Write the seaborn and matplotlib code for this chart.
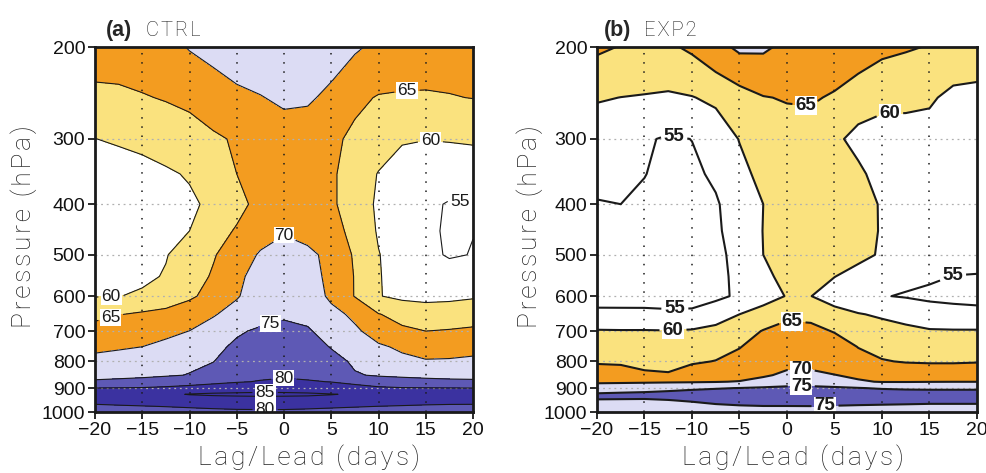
import numpy as np
import pandas as pd
import matplotlib
matplotlib.use('Agg')
import matplotlib.pyplot as plt
from matplotlib.ticker import NullLocator
import seaborn as sns

# lag/lead (days) and pressure levels (hPa)
lags = [-20, -17.5, -15, -12.5, -10, -7.5, -5, -2.5, 0, 2.5, 5, 7.5, 10, 12.5, 15, 17.5, 20]
plevs = [200, 250, 300, 350, 400, 450, 500, 550, 600, 650, 700, 750, 800, 850, 875, 900, 925, 950, 975, 1000]

# relative humidity (%), one row per pressure level
ctrl_rh = [
    [67, 67, 67.5, 68.5, 70.3, 71.5, 72.5, 73, 73, 72.5, 72, 70.6, 69, 68, 67.5, 67, 67],                    # 200
    [64, 64.2, 64.7, 65.3, 66, 67.5, 69, 69.8, 70.8, 70.6, 69, 66, 64.7, 64.5, 64.5, 64.8, 65.1],             # 250
    [59.95, 60.5, 61, 62, 63, 64.3, 65.5, 67, 67.8, 67.5, 66, 64, 62, 60.3, 60.1, 60.3, 60.6],                # 300
    [57.5, 58, 58.7, 59.4, 60.4, 62.5, 65, 66.5, 67, 66.8, 65.8, 62.5, 59.8, 58.5, 57.5, 57, 57],             # 350
    [56, 56.5, 57, 58, 59.2, 61, 63.5, 66.5, 67.5, 67, 65.8, 62.5, 59.3, 57, 55.8, 54.7, 54.9],               # 400
    [56.5, 56.8, 57.5, 58.5, 60, 62.8, 65.5, 68, 69.7, 68.5, 66.5, 63.8, 59.5, 57, 55.6, 54.6, 54.95],        # 450
    [57, 57.5, 58.5, 59.8, 61.8, 64.6, 67.5, 70.5, 71.5, 71, 68.8, 64.4, 60.2, 57.5, 55.8, 54.7, 55.1],       # 500
    [57.5, 58, 59.2, 60.3, 62.8, 65.5, 69, 71.8, 73, 72.3, 68.5, 64.8, 60.3, 58, 57, 56.5, 57],               # 550
    [59.8, 59.9, 60.6, 62, 64.3, 66.5, 69.6, 72.5, 74, 73, 69, 64.8, 60.2, 59, 58.8, 59, 59.5],               # 600
    [64, 64.8, 65.7, 66.5, 67.5, 69.6, 71.8, 73.5, 74.5, 74, 71.5, 69, 65.2, 63.5, 62.3, 62.5, 63],           # 650
    [66.5, 67, 67.8, 69, 70.05, 72, 74.5, 75.6, 76, 75.4, 73.5, 70.8, 68, 65.8, 65.0, 65.3, 65.7],            # 700
    [68.5, 69.3, 70, 71, 72.5, 74, 75.7, 77.5, 78.3, 77.5, 74.7, 72.5, 70.6, 69.3, 68.3, 68, 68.3],           # 750
    [72, 72.5, 73, 73.8, 74.5, 74.9, 77, 78.5, 79, 78.5, 76.8, 74.2, 72.5, 71, 70.3, 70.5, 71],               # 800
    [74.3, 74.4, 74.5, 74.7, 75.1, 76.5, 78, 79.3, 79.6, 79.2, 78, 75.4, 74.5, 74.3, 74.3, 74.3, 74.3],       # 850
    [75.3, 75.5, 75.8, 76.5, 77.5, 78.8, 79.7, 80.2, 80.5, 80.3, 79.9, 79.1, 77.8, 76.5, 75.8, 75.5, 75.4],   # 875
    [80.05, 80.2, 80.4, 81, 81.8, 82.3, 82.6, 82.8, 82.8, 82.5, 82, 81.2, 80.6, 80.3, 80.2, 80.1, 80.05],     # 900
    [82.5, 83, 83.5, 84.2, 85.2, 85.6, 85.8, 86, 85.9, 85.7, 85.2, 84.5, 83.8, 83.3, 83, 82.8, 82.7],         # 925
    [81, 81.3, 81.6, 82, 82.5, 82.8, 83, 83, 83, 83, 82.8, 82.4, 82, 81.6, 81.3, 81.1, 81],                   # 950
    [79.5, 79.7, 79.9, 80.1, 80.3, 80.5, 80.7, 80.8, 80.8, 80.6, 80.4, 80.2, 80.0, 79.8, 79.6, 79.5, 79.5],   # 975
    [78, 78.2, 78.5, 78.8, 79.1, 79.3, 79.4, 79.4, 79.4, 79.3, 79.1, 78.9, 78.7, 78.5, 78.3, 78.1, 78],       # 1000
]

exp2_rh = [
    [65.8, 64.8, 63.8, 64.3, 65.8, 68.5, 70.9, 70.7, 69, 68.5, 68, 67.5, 66, 65.4, 64.8, 64.3, 64],           # 200
    [60.4, 59.95, 59.7, 59.3, 59.8, 61, 63, 64.8, 65.3, 65.5, 64.5, 62.5, 61.5, 61.2, 60.8, 58.5, 58],        # 250
    [57, 56.5, 55.5, 54.5, 55.05, 56.8, 60.2, 62.2, 63, 62.8, 61, 58.5, 57.5, 57.8, 57.5, 57, 57],            # 300
    [56, 55.8, 55.1, 54, 54.3, 55.6, 58.5, 61.5, 63, 63, 62.3, 61, 58, 57, 56.8, 56.5, 56.5],                 # 350
    [54.8, 55.0, 54.3, 53.5, 53.8, 54.6, 57, 60, 62.3, 63, 62.8, 61.8, 59.6, 57.5, 57, 56.8, 56.7],           # 400
    [53.8, 53.7, 53.3, 53, 53.3, 54.3, 57, 60.1, 62.5, 63, 62.8, 62, 59.6, 57.5, 57, 56.6, 56.5],             # 450
    [53.5, 53.4, 53.2, 53, 53.2, 54.2, 56, 60, 62.5, 62.8, 62.2, 61.2, 59.5, 57.5, 56.5, 56, 55.7],           # 500
    [53.8, 53.6, 53.4, 53.3, 53.5, 54.3, 55.6, 59.2, 61, 61.2, 60.1, 58.3, 57, 56, 55.4, 54.95, 54.9],        # 550
    [54, 53.8, 53.6, 53.6, 53.8, 54.3, 55.5, 57.5, 60.3, 60.1, 57.5, 56, 55.2, 54.7, 54.4, 54.3, 54.2],       # 600
    [55.6, 55.7, 55.8, 55.6, 55.6, 57, 60, 62.5, 64.2, 64, 62, 60.3, 59.3, 58.5, 56.5, 56, 55.8],             # 650
    [60.4, 60.3, 60.3, 60.2, 60.5, 61.8, 63.3, 65.2, 66.3, 66, 64.8, 63.5, 62, 61, 60.5, 60.4, 60.4],         # 700
    [62, 62, 62, 62.2, 62.8, 63.8, 64.8, 67, 68, 67.8, 66.7, 64.9, 63.5, 62.5, 62.2, 62, 62],                 # 750
    [64.6, 64.5, 64.3, 64.3, 64.6, 65.1, 66.5, 68, 69, 68.8, 67.8, 66.2, 65.3, 64.7, 64.5, 64.5, 64.7],       # 800
    [66.8, 66.5, 65.4, 65.2, 66.6, 67.3, 68.2, 69.6, 70.6, 70.8, 70.1, 69.3, 68.6, 68.3, 68.2, 68.2, 68.3],   # 850
    [69.2, 69.3, 69.4, 69.5, 69.6, 69.8, 70.2, 71, 72.5, 72.8, 71.8, 70.4, 69.8, 69.8, 69.9, 69.95, 69.95],   # 875
    [72.5, 72.8, 73.2, 73.8, 74.3, 74.7, 75.1, 75.6, 76, 76, 75.7, 75.2, 74.6, 74.3, 74.2, 74.2, 74.2],       # 900
    [75.5, 75.8, 76, 76.3, 76.8, 77.3, 77.8, 78.2, 78.4, 78.4, 78.2, 77.9, 77.6, 77.4, 77.3, 77.3, 77.3],     # 925
    [74.9, 74.8, 74.7, 74.9, 75.3, 76, 76.6, 77, 77.2, 77.2, 77, 76.7, 76.4, 76.2, 76, 76, 76],               # 950
    [73.5, 73.5, 73.6, 73.7, 74, 74.4, 74.7, 74.9, 74.9, 74.95, 74.8, 74.6, 74.5, 74.4, 74.3, 74.3, 74.3],    # 975
    [72.5, 72.6, 72.7, 72.8, 73, 73.2, 73.4, 73.5, 73.6, 73.5, 73.4, 73.3, 73.2, 73.1, 73, 73, 73],           # 1000
]

fill_levels = [0, 60, 65, 70, 75, 80, 85, 100]
fill_colors = ['#ffffff', '#fae27e', '#f39c20', '#dcdcf4', '#5e59b5', '#3b32a0', '#3b32a0']
line_levels = [55, 60, 65, 70, 75, 80, 85]

ctrl_label_pos = [(13, 240), (15.5, 300), (18.6, 402), (0, 455), (-18.3, 605), (-18.3, 663),
                  (-1.5, 675), (0, 866), (-2, 925), (-2, 990)]
exp2_label_pos = [(-11.8, 290), (2.0, 257), (10.8, 266), (17.5, 552), (-11.8, 642), (-12, 698),
                  (0.5, 682), (1.5, 828), (1.5, 893), (4, 975)]

ptick = [200, 300, 400, 500, 600, 700, 800, 900, 1000]
xtick = [-20, -15, -10, -5, 0, 5, 10, 15, 20]

sns.set_theme(style='white')
plt.rcParams['font.family'] = ['Liberation Sans', 'DejaVu Sans']

W, H = 987, 473
fig = plt.figure(figsize=(W / 100, H / 100), dpi=100)


def draw_panel(ax, data, label_pos, lw, lab_size, lab_weight):
    df = pd.DataFrame(data, index=plevs, columns=lags)
    X, Y = np.meshgrid(df.columns.values, df.index.values)
    Z = df.values
    ax.contourf(X, Y, Z, levels=fill_levels, colors=fill_colors, zorder=1)
    for p in ptick[1:-1]:
        ax.axhline(p, color='#b0b0b0', lw=0.9, ls=(0, (1.5, 3)), zorder=2)
    for x in xtick[1:-1]:
        ax.axvline(x, color='k', lw=1.1, ls=(0, (1, 5)), zorder=2)
    cs = ax.contour(X, Y, Z, levels=line_levels, colors='k', linewidths=lw, zorder=3)
    ax.set_yscale('log')
    ax.set_ylim(1000, 200)
    ax.set_xlim(-20, 20)
    labs = ax.clabel(cs, manual=label_pos, inline=True, inline_spacing=3, fmt='%d',
                     fontsize=lab_size)
    for t in labs:
        t.set_rotation(0)
        t.set_fontweight(lab_weight)
        t.set_bbox(dict(facecolor='white', edgecolor='none', pad=0.6))
        t.set_zorder(5)
    ax.set_yticks(ptick)
    ax.set_yticklabels([str(p) for p in ptick])
    ax.yaxis.set_minor_locator(NullLocator())
    ax.set_xticks(xtick)
    ax.set_xticklabels([str(x).replace('-', '\u2212') for x in xtick])
    ax.tick_params(direction='out', length=5, width=1.3, labelsize=14, left=True, bottom=True,
                   pad=2, color='k', labelcolor='#111111')
    for s in ax.spines.values():
        s.set_linewidth(2.0)
        s.set_color('k')
        s.set_zorder(6)


def spaced(s):
    # GrADS-style wide letter spacing
    return '\u200a'.join(s)


ax1 = fig.add_axes([95 / W, 1 - 412 / H, 378 / W, 365 / H])
ax2 = fig.add_axes([597 / W, 1 - 412 / H, 380 / W, 365 / H])
draw_panel(ax1, ctrl_rh, ctrl_label_pos, 0.8, 12.5, 'normal')
draw_panel(ax2, exp2_rh, exp2_label_pos, 1.5, 13.5, 'bold')

thin = dict(family=['Roboto', 'DejaVu Sans'], fontweight='light', color='#222222')
fig.text(106 / W, 1 - 36 / H, '(a)', fontsize=15.5, fontweight='bold', va='baseline')
fig.text(146 / W, 1 - 36 / H, spaced('CTRL'), fontsize=14.5, va='baseline', **thin)
fig.text(604 / W, 1 - 36 / H, '(b)', fontsize=15.5, fontweight='bold', va='baseline')
fig.text(644 / W, 1 - 36 / H, spaced('EXP2'), fontsize=14.5, va='baseline', **thin)

for xc in (24, 530):
    fig.text(xc / W, 1 - 227 / H, spaced('Pressure (hPa)'), rotation=90, ha='center',
             va='center', fontsize=19, **thin)
for xc in (309, 793):
    fig.text(xc / W, 1 - 458 / H, spaced('Lag/Lead (days)'), ha='center', va='center',
             fontsize=19, **thin)

fig.savefig('out.png', dpi=100)
